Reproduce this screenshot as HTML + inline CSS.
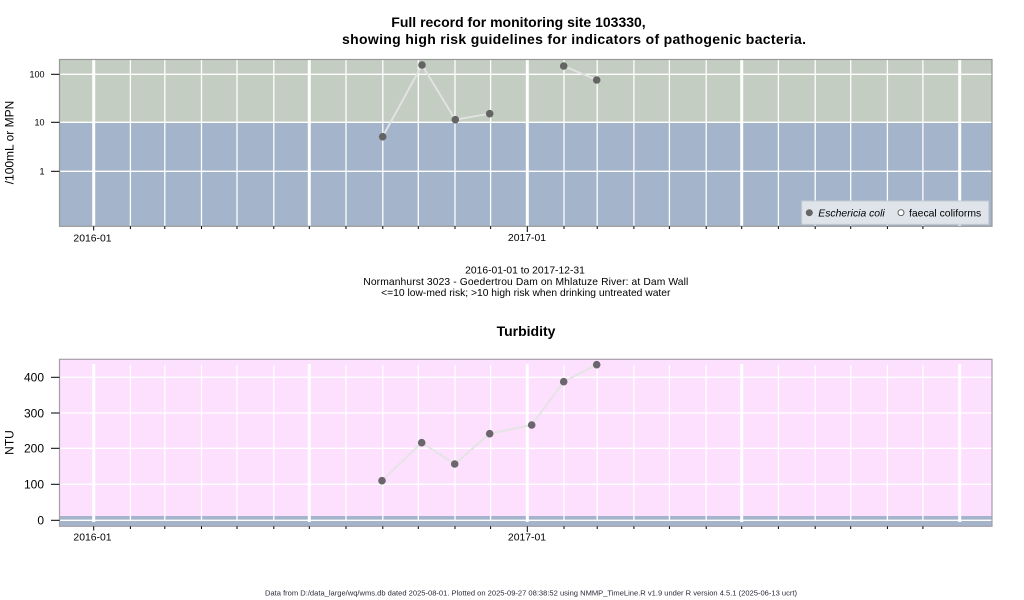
<!DOCTYPE html>
<html><head><meta charset="utf-8"><style>
html,body{margin:0;padding:0;background:#fff;}
svg{display:block;font-family:"Liberation Sans",Arial,sans-serif;}
</style></head><body>
<svg width="1024" height="600" viewBox="0 0 1024 600" xmlns="http://www.w3.org/2000/svg">
<!-- Titles -->
<text x="518.5" y="27" font-size="14" font-weight="bold" text-anchor="middle" fill="#000">Full record for monitoring site 103330,</text>
<text x="342" y="44" font-size="14" font-weight="bold" textLength="464" lengthAdjust="spacing" fill="#000">showing high risk guidelines for indicators of pathogenic bacteria.</text>

<!-- Top panel -->
<rect x="59.5" y="59.5" width="932.5" height="63" fill="#c3cdc1"/>
<rect x="59.5" y="122.3" width="932.5" height="104" fill="#a3b4cb"/>
<g stroke="#fff" stroke-width="1.3">
<line x1="59.5" y1="74.3" x2="992" y2="74.3"/>
<line x1="59.5" y1="122.3" x2="992" y2="122.3"/>
<line x1="59.5" y1="171.3" x2="992" y2="171.3"/>
</g>
<g stroke="#fff" stroke-width="1.3">
<line x1="130.4" y1="59.5" x2="130.4" y2="226.3"/>
<line x1="164.8" y1="59.5" x2="164.8" y2="226.3"/>
<line x1="201.5" y1="59.5" x2="201.5" y2="226.3"/>
<line x1="237.0" y1="59.5" x2="237.0" y2="226.3"/>
<line x1="273.8" y1="59.5" x2="273.8" y2="226.3"/>
<line x1="346.0" y1="59.5" x2="346.0" y2="226.3"/>
<line x1="382.8" y1="59.5" x2="382.8" y2="226.3"/>
<line x1="418.3" y1="59.5" x2="418.3" y2="226.3"/>
<line x1="455.0" y1="59.5" x2="455.0" y2="226.3"/>
<line x1="490.6" y1="59.5" x2="490.6" y2="226.3"/>
<line x1="564.0" y1="59.5" x2="564.0" y2="226.3"/>
<line x1="597.2" y1="59.5" x2="597.2" y2="226.3"/>
<line x1="633.9" y1="59.5" x2="633.9" y2="226.3"/>
<line x1="669.4" y1="59.5" x2="669.4" y2="226.3"/>
<line x1="706.2" y1="59.5" x2="706.2" y2="226.3"/>
<line x1="778.4" y1="59.5" x2="778.4" y2="226.3"/>
<line x1="815.2" y1="59.5" x2="815.2" y2="226.3"/>
<line x1="850.7" y1="59.5" x2="850.7" y2="226.3"/>
<line x1="887.4" y1="59.5" x2="887.4" y2="226.3"/>
<line x1="922.9" y1="59.5" x2="922.9" y2="226.3"/>
</g>
<g stroke="#fff" stroke-width="3">
<line x1="93.7" y1="59.5" x2="93.7" y2="226.3"/>
<line x1="309.3" y1="59.5" x2="309.3" y2="226.3"/>
<line x1="527.3" y1="59.5" x2="527.3" y2="226.3"/>
<line x1="741.7" y1="59.5" x2="741.7" y2="226.3"/>
<line x1="959.7" y1="59.5" x2="959.7" y2="226.3"/>
</g>
<rect x="59.5" y="59.5" width="932.5" height="166.8" fill="none" stroke="#999" stroke-width="1.2"/>
<!-- series top -->
<polyline points="382.7,136.7 422,65 455.3,119.7 489.7,113.7" fill="none" stroke="#e2e2e2" stroke-width="2"/>
<polyline points="563.7,66 596.7,80" fill="none" stroke="#e2e2e2" stroke-width="2"/>
<g fill="#646464">
<circle cx="382.7" cy="136.7" r="3.8"/>
<circle cx="422" cy="65" r="3.8"/>
<circle cx="455.3" cy="119.7" r="3.8"/>
<circle cx="489.7" cy="113.7" r="3.8"/>
<circle cx="563.7" cy="66" r="3.8"/>
<circle cx="596.7" cy="80" r="3.8"/>
</g>
<!-- legend -->
<rect x="801.7" y="201" width="187" height="23.3" fill="#dfe4eb" stroke="#c5cad2" stroke-width="1"/>
<circle cx="809.3" cy="212.7" r="3.5" fill="#666"/>
<text x="818.3" y="216.3" font-size="10.4" font-style="italic" fill="#000">Eschericia coli</text>
<circle cx="901" cy="212.7" r="3" fill="#fff" stroke="#555" stroke-width="0.9"/>
<text x="909" y="216.3" font-size="10.4" fill="#000">faecal coliforms</text>
<!-- y axis top -->
<g stroke="#000" stroke-width="1">
<line x1="51" y1="74.3" x2="59.5" y2="74.3"/>
<line x1="51" y1="122.3" x2="59.5" y2="122.3"/>
<line x1="51" y1="171.3" x2="59.5" y2="171.3"/>
</g>
<g font-size="9" text-anchor="end" fill="#000">
<text x="44.5" y="77.6">100</text>
<text x="44.5" y="125.6">10</text>
<text x="44.5" y="174.6">1</text>
</g>
<text transform="translate(13.5,142.5) rotate(-90)" font-size="12" text-anchor="middle" fill="#000">/100mL or MPN</text>
<!-- x axis ticks top -->
<g stroke="#000" stroke-width="1">
<line x1="93.7" y1="226.3" x2="93.7" y2="230.5"/>
<line x1="130.4" y1="226.3" x2="130.4" y2="229"/>
<line x1="164.8" y1="226.3" x2="164.8" y2="229"/>
<line x1="201.5" y1="226.3" x2="201.5" y2="229"/>
<line x1="237.0" y1="226.3" x2="237.0" y2="229"/>
<line x1="273.8" y1="226.3" x2="273.8" y2="229"/>
<line x1="309.3" y1="226.3" x2="309.3" y2="229"/>
<line x1="346.0" y1="226.3" x2="346.0" y2="229"/>
<line x1="382.8" y1="226.3" x2="382.8" y2="229"/>
<line x1="418.3" y1="226.3" x2="418.3" y2="229"/>
<line x1="455.0" y1="226.3" x2="455.0" y2="229"/>
<line x1="490.6" y1="226.3" x2="490.6" y2="229"/>
<line x1="527.3" y1="226.3" x2="527.3" y2="232"/>
<line x1="564.0" y1="226.3" x2="564.0" y2="229"/>
<line x1="597.2" y1="226.3" x2="597.2" y2="229"/>
<line x1="633.9" y1="226.3" x2="633.9" y2="229"/>
<line x1="669.4" y1="226.3" x2="669.4" y2="229"/>
<line x1="706.2" y1="226.3" x2="706.2" y2="229"/>
<line x1="741.7" y1="226.3" x2="741.7" y2="229"/>
<line x1="778.4" y1="226.3" x2="778.4" y2="229"/>
<line x1="815.2" y1="226.3" x2="815.2" y2="229"/>
<line x1="850.7" y1="226.3" x2="850.7" y2="229"/>
<line x1="887.4" y1="226.3" x2="887.4" y2="229"/>
<line x1="922.9" y1="226.3" x2="922.9" y2="229"/>
</g>
<g font-size="10.4" text-anchor="middle" fill="#000">
<text x="92.5" y="241.5">2016-01</text>
<text x="527" y="241">2017-01</text>
</g>

<!-- subtitle -->
<g font-size="10.3" text-anchor="middle" fill="#000">
<text x="525" y="273.5">2016-01-01 to 2017-12-31</text>
<text x="525.8" y="285" textLength="325" lengthAdjust="spacing">Normanhurst 3023 - Goedertrou Dam on Mhlatuze River: at Dam Wall</text>
<text x="525.8" y="296">&lt;=10 low-med risk; &gt;10 high risk when drinking untreated water</text>
</g>
<text x="526" y="336" font-size="14" font-weight="bold" text-anchor="middle" fill="#000">Turbidity</text>

<!-- Bottom panel -->
<rect x="59.5" y="359.3" width="932.5" height="167" fill="#fde0fd"/>
<rect x="59.5" y="516" width="932.5" height="10.3" fill="#a3b4cb"/>
<g stroke="#fff" stroke-width="1.3">
<line x1="59.5" y1="377.3" x2="992" y2="377.3"/>
<line x1="59.5" y1="413" x2="992" y2="413"/>
<line x1="59.5" y1="448.3" x2="992" y2="448.3"/>
<line x1="59.5" y1="484.3" x2="992" y2="484.3"/>
<line x1="59.5" y1="520.3" x2="992" y2="520.3"/>
</g>
<g stroke="#fff" stroke-width="1.3">
<line x1="130.4" y1="365" x2="130.4" y2="520.5"/>
<line x1="164.8" y1="365" x2="164.8" y2="520.5"/>
<line x1="201.5" y1="365" x2="201.5" y2="520.5"/>
<line x1="237.0" y1="365" x2="237.0" y2="520.5"/>
<line x1="273.8" y1="365" x2="273.8" y2="520.5"/>
<line x1="346.0" y1="365" x2="346.0" y2="520.5"/>
<line x1="382.8" y1="365" x2="382.8" y2="520.5"/>
<line x1="418.3" y1="365" x2="418.3" y2="520.5"/>
<line x1="455.0" y1="365" x2="455.0" y2="520.5"/>
<line x1="490.6" y1="365" x2="490.6" y2="520.5"/>
<line x1="564.0" y1="365" x2="564.0" y2="520.5"/>
<line x1="597.2" y1="365" x2="597.2" y2="520.5"/>
<line x1="633.9" y1="365" x2="633.9" y2="520.5"/>
<line x1="669.4" y1="365" x2="669.4" y2="520.5"/>
<line x1="706.2" y1="365" x2="706.2" y2="520.5"/>
<line x1="778.4" y1="365" x2="778.4" y2="520.5"/>
<line x1="815.2" y1="365" x2="815.2" y2="520.5"/>
<line x1="850.7" y1="365" x2="850.7" y2="520.5"/>
<line x1="887.4" y1="365" x2="887.4" y2="520.5"/>
<line x1="922.9" y1="365" x2="922.9" y2="520.5"/>
</g>
<g stroke="#fff" stroke-width="3">
<line x1="93.7" y1="364" x2="93.7" y2="522"/>
<line x1="309.3" y1="364" x2="309.3" y2="522"/>
<line x1="527.3" y1="364" x2="527.3" y2="522"/>
<line x1="741.7" y1="364" x2="741.7" y2="522"/>
<line x1="959.7" y1="364" x2="959.7" y2="522"/>
</g>
<rect x="59.5" y="359.3" width="932.5" height="167" fill="none" stroke="#a69ea8" stroke-width="1.2"/>
<polyline points="382,480.7 421.7,442.7 454.7,464 489.7,433.7 531.7,425 563.7,381.7 596.7,364.7" fill="none" stroke="#e4e4e4" stroke-width="2"/>
<g fill="#6b666d">
<circle cx="382" cy="480.7" r="3.8"/>
<circle cx="421.7" cy="442.7" r="3.8"/>
<circle cx="454.7" cy="464" r="3.8"/>
<circle cx="489.7" cy="433.7" r="3.8"/>
<circle cx="531.7" cy="425" r="3.8"/>
<circle cx="563.7" cy="381.7" r="3.8"/>
<circle cx="596.7" cy="364.7" r="3.8"/>
</g>
<!-- y axis bottom -->
<g stroke="#000" stroke-width="1">
<line x1="51" y1="377.3" x2="59.5" y2="377.3"/>
<line x1="51" y1="413" x2="59.5" y2="413"/>
<line x1="51" y1="448.3" x2="59.5" y2="448.3"/>
<line x1="51" y1="484.3" x2="59.5" y2="484.3"/>
<line x1="51" y1="520.3" x2="59.5" y2="520.3"/>
</g>
<g font-size="12" text-anchor="end" fill="#000">
<text x="44" y="381.6">400</text>
<text x="44" y="417.3">300</text>
<text x="44" y="452.6">200</text>
<text x="44" y="488.6">100</text>
<text x="44" y="524.6">0</text>
</g>
<text transform="translate(13.5,442.5) rotate(-90)" font-size="12" text-anchor="middle" fill="#000">NTU</text>
<!-- x axis ticks bottom -->
<g stroke="#000" stroke-width="1">
<line x1="93.7" y1="526.3" x2="93.7" y2="530.5"/>
<line x1="130.4" y1="526.3" x2="130.4" y2="529"/>
<line x1="164.8" y1="526.3" x2="164.8" y2="529"/>
<line x1="201.5" y1="526.3" x2="201.5" y2="529"/>
<line x1="237.0" y1="526.3" x2="237.0" y2="529"/>
<line x1="273.8" y1="526.3" x2="273.8" y2="529"/>
<line x1="309.3" y1="526.3" x2="309.3" y2="529"/>
<line x1="346.0" y1="526.3" x2="346.0" y2="529"/>
<line x1="382.8" y1="526.3" x2="382.8" y2="529"/>
<line x1="418.3" y1="526.3" x2="418.3" y2="529"/>
<line x1="455.0" y1="526.3" x2="455.0" y2="529"/>
<line x1="490.6" y1="526.3" x2="490.6" y2="529"/>
<line x1="527.3" y1="526.3" x2="527.3" y2="532"/>
<line x1="564.0" y1="526.3" x2="564.0" y2="529"/>
<line x1="597.2" y1="526.3" x2="597.2" y2="529"/>
<line x1="633.9" y1="526.3" x2="633.9" y2="529"/>
<line x1="669.4" y1="526.3" x2="669.4" y2="529"/>
<line x1="706.2" y1="526.3" x2="706.2" y2="529"/>
<line x1="741.7" y1="526.3" x2="741.7" y2="529"/>
<line x1="778.4" y1="526.3" x2="778.4" y2="529"/>
<line x1="815.2" y1="526.3" x2="815.2" y2="529"/>
<line x1="850.7" y1="526.3" x2="850.7" y2="529"/>
<line x1="887.4" y1="526.3" x2="887.4" y2="529"/>
<line x1="922.9" y1="526.3" x2="922.9" y2="529"/>
</g>
<g font-size="10.4" text-anchor="middle" fill="#000">
<text x="92.5" y="540.5">2016-01</text>
<text x="527" y="540.5">2017-01</text>
</g>

<!-- footer -->
<text x="265" y="595.5" font-size="7.5" textLength="532" lengthAdjust="spacingAndGlyphs" fill="#2a2a3a">Data from D:/data_large/wq/wms.db dated 2025-08-01. Plotted on 2025-09-27 08:38:52 using NMMP_TimeLine.R v1.9 under R version 4.5.1 (2025-06-13 ucrt)</text>
</svg>
</body></html>
